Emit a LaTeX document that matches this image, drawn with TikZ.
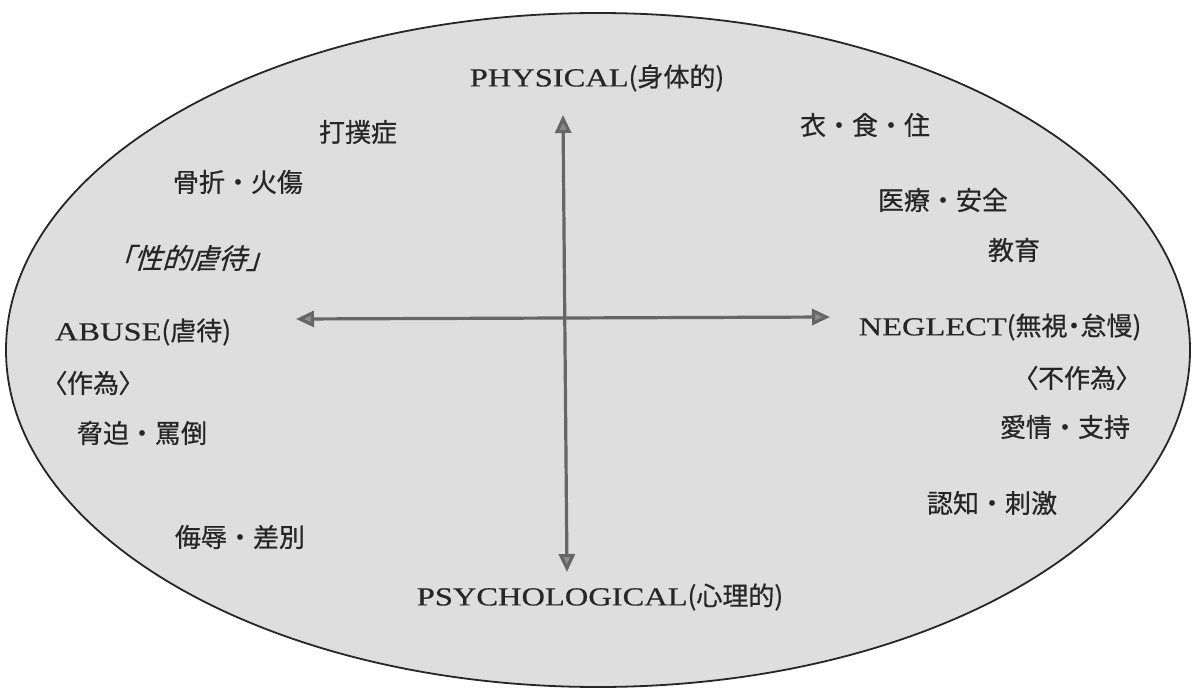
\documentclass[tikz,border=0pt]{standalone}
\usepackage{fontspec}
\setmainfont{Liberation Serif}
\newfontfamily\lat{Liberation Serif}[FakeStretch=1.25,FakeBold=0.5]
\newfontfamily\jp{Noto Sans CJK JP}[FakeBold=0.6]
\newfontfamily\jpp{Noto Sans CJK JP}[RawFeature=+palt,FakeBold=0.6]
\newfontfamily\jpit{Noto Sans CJK JP}[FakeSlant=0.3,FakeBold=0.4]
\usetikzlibrary{arrows.meta}
\begin{document}
\begin{tikzpicture}[x=1pt,y=-1pt,
  lbl/.style={font=\fontsize{26}{30}\selectfont\jp, text=black!85, inner sep=0pt},
  plbl/.style={lbl, font=\fontsize{26}{30}\selectfont\jpp},
  axis/.style={draw=black!60, line width=3.2pt,
    {Triangle[width=16pt,length=18pt,fill=black!45]}-{Triangle[width=16pt,length=18pt,fill=black!45]}}]
\useasboundingbox (0,0) rectangle (1192,693);
\draw[fill=black!13, line width=1.8pt, draw=black!85] (598,350) ellipse [x radius=592, y radius=337];

% axes
\coordinate (top) at (563,115);
\coordinate (bot) at (567,572);
\coordinate (lft) at (296,319);
\coordinate (rgt) at (830,317);
\draw[axis] (top) -- (bot);
\draw[axis] (lft) -- (rgt);

% axis labels
\node[plbl] (phys) at (597,78) {{\lat\fontsize{26}{30}\selectfont PHYSICAL}(身体的)};
\node[plbl] (psych) at (600,597) {{\lat\fontsize{26}{30}\selectfont PSYCHOLOGICAL}(心理的)};
\node[plbl] (abuse) at (143,332) {{\lat\fontsize{26}{30}\selectfont ABUSE}(虐待)};
\node[plbl] (negl) at (1000,327) {{\lat\fontsize{26}{30}\selectfont NEGLECT}(無視・怠慢)};

% left side items
\node[lbl] (dabo) at (358,132) {打撲症};
\node[lbl] (kossetsu) at (238,182) {骨折・火傷};
\node[lbl, font=\fontsize{28}{32}\selectfont\jpit] (sei) at (190,258) {「性的虐待」};
\node[plbl] (sakui) at (93,383) {〈作為〉};
\node[lbl] (kyouhaku) at (142,433) {脅迫・罵倒};
\node[lbl] (bujoku) at (240,537) {侮辱・差別};

% right side items
\node[lbl] (ishoku) at (865,125) {衣・食・住};
\node[lbl] (iryou) at (943,200) {医療・安全};
\node[lbl] (kyouiku) at (1014,250) {教育};
\node[plbl] (fusakui) at (1077,378) {〈不作為〉};
\node[lbl] (aijou) at (1065,427) {愛情・支持};
\node[lbl] (ninchi) at (992,503) {認知・刺激};
\end{tikzpicture}
\end{document}
